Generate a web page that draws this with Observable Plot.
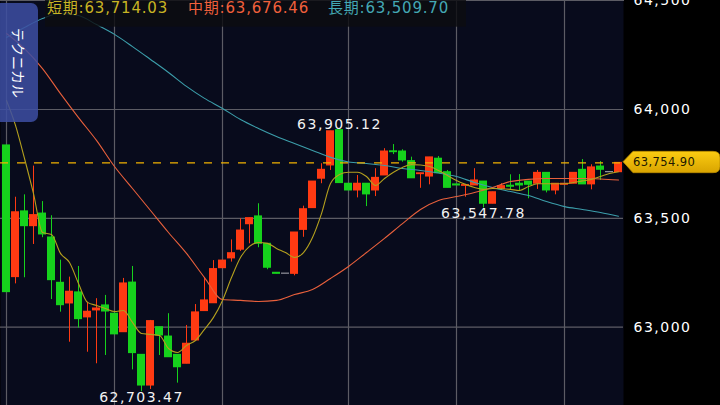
<!DOCTYPE html>
<html><head><meta charset="utf-8">
<script src="https://cdn.jsdelivr.net/npm/d3@7"></script>
<script src="https://cdn.jsdelivr.net/npm/@observablehq/plot@0.6"></script>
<style>
html,body{margin:0;padding:0;background:#000;}
#chart{width:720px;height:405px;overflow:hidden;}
</style></head><body><div id="chart"></div>
<script>
// ---- data ----
const opens=[63835,63230,63532,63464,63522,63412,63204,63109,63160,63045,
63077,63100,63062,62977,63205,62873,62732,63000,62957,62873,
62832,62939,63074,63110,63271,63316,63356,63473,63509,63383,
63250,63246,63245,63447,63547,63682,63743,63905.12,63659,63628,
63659,63628,63697,63808,63807,63763,63703,63692,63774,63712,
63656,63649,63651,63669,63567,63636,63650,63659,63669,63659,
63709,63628,63654,63659,63723,63656,63738,63712,63712];
const highs=[63835,63597,63608,63740,63577,63512,63308,63230,63279,63115,
63131,63146,63062,63224,63279,62874,63031,63000,63062,62873,
63008,63104,63227,63306,63306,63401,63498,63501,63567,63383,
63250,63246,63435,63556,63669,63751,63900,63905.12,63659,63697,
63659,63728,63820,63839,63815,63781,63707,63780,63784,63720,
63656,63653,63728,63669,63620,63659,63700,63701,63669,63720,
63709,63659,63659,63709,63770,63746,63761,63712,63754.90];
const lows=[63161,63199,63227,63380,63411,63127,63069,62931,62996,62885,
62832,62870,62967,62977,62804,62703.47,62714,62870,62862,62743,
62832,62939,63074,63110,63271,63299,63348,63383,63365,63264,
63245,63246,63236,63413,63547,63659,63720,63662,63628,63594,
63554,63600,63697,63793,63758,63684,63638,63654,63707,63640,
63651,63597,63651,63547.78,63567,63628,63628,63628,63590,63633,
63617,63608,63654,63659,63656,63631,63674,63712,63712];
const closes=[63161,63528,63464,63515,63426,63216,63101,63163,63037,63071,
63086,63072,62967,63201,62881,62732,63028,62962,62862,62816,
62924,63068,63123,63267,63306,63340,63444,63501,63383,63273,
63245,63246,63435,63542,63669,63723,63900,63662,63628,63659,
63610,63686,63807,63804,63766,63684,63707,63780,63707,63640,
63651,63653,63674,63567,63620,63648,63645,63651,63654,63709,
63628,63659,63659,63709,63656,63734,63723,63712,63754.90];

// moving averages
const maShort=[64041,63927,63775,63614,63435,63426,63339,63297,63201,63114,
63100,63086,63072,63077,63022,62971,62967,62962,62902,62884,
62916,62939,62990,63045,63123,63228,63320,63371,63389,63385,
63362,63343,63320,63343,63412,63522,63660,63701,63712,63712,
63692,63651,63683,63712,63734,63747,63745,63738,63720,63697,
63674,63656,63642,63633,63637,63636,63633,63628,63646,63659,
63659,63659,63659,63665,63672,63679,63692,63706,63714.03];
// mid & long read at every second bar (0,2,...,68)
const maMid=[64349,64280,64188,64073,63963,63858,63738,63637,63536,63435,
63339,63228,63127,63123,63118,63123,63150,63173,63224,63279,
63343,63408,63476,63541,63582,63600,63619,63642,63669,63679,
63683,63683,63683,63681,63676.46];
const maLong=[64331,64377,64418,64441,64432,64390,64345,64289,64230,64170,
64106,64051,64005,63954,63913,63876,63844,63812,63780,63759,
63752,63743,63729,63720,63708,63692,63665,63642,63623,63605,
63577,63554,63541,63527,63509.70];

const yTicks=[63000,63500,64000,64500];
const gridLevels=[63000,63500,64000];
const timeGridBars=[0,12,24,38,50,62];
const legendItems=[{name:"短期",value:63714.03},{name:"中期",value:63676.46},{name:"長期",value:63509.70}];
const highMark={bar:37,value:63905.12};
const lowMarks=[{bar:53,value:63547.78},{bar:15,value:62703.47}];
const tabLabel="テクニカル";

// ---- styles ----
const UP="#ff3a12", DOWN="#16d21c", DOJI="#b0b0b8";
const C_SHORT="#b4a01e", C_MID="#e8603c", C_LONG="#3c9eaa";
const L_SHORT="#c8b424", L_MID="#f0603c", L_LONG="#44a8b4";

const candles=opens.map((o,i)=>({i,open:o,high:highs[i],low:lows[i],close:closes[i]}));
const colorOf=d=>d.close>d.open?UP:d.close<d.open?DOWN:DOJI;
const shortPts=maShort.map((v,i)=>({i,v}));
const midPts=maMid.map((v,k)=>({i:k*2,v}));
const longPts=maLong.map((v,k)=>({i:k*2,v}));
const last=closes[closes.length-1];
const fmt2=d3.format(",.2f");

const plot=Plot.plot({
  width:720,height:405,marginLeft:0,marginRight:97,marginTop:0,marginBottom:0,
  style:{background:"#000",color:"#fff",fontFamily:"'DejaVu Sans', sans-serif",letterSpacing:"1.5px"},
  x:{domain:[-0.6667,68.5556],axis:null},
  y:{domain:[62640.3,64500.7],axis:null},
  marks:[
    Plot.frame({fill:"#080b1c",stroke:null}),
    Plot.ruleY(gridLevels,{stroke:"#5c5c64",strokeWidth:1.2}),
    Plot.ruleX(timeGridBars,{stroke:"#5c5c64",strokeWidth:1.2}),
    Plot.frame({anchor:"top",stroke:"#5c5c64"}),
    Plot.frame({anchor:"bottom",stroke:"#5c5c64"}),
    Plot.ruleX(candles,{x:"i",y1:"low",y2:"high",stroke:colorOf,strokeWidth:1}),
    Plot.rect(candles,{x1:d=>d.i-0.444,x2:d=>d.i+0.444,y1:"open",y2:"close",fill:colorOf,insetTop:-0.5,insetBottom:-0.5}),
    Plot.line(longPts,{x:"i",y:"v",stroke:C_LONG,strokeWidth:1.1,curve:"monotone-x"}),
    Plot.line(midPts,{x:"i",y:"v",stroke:C_MID,strokeWidth:1.1,curve:"monotone-x"}),
    Plot.line(shortPts,{x:"i",y:"v",stroke:C_SHORT,strokeWidth:1.1,curve:"monotone-x"}),
    Plot.ruleY([last],{stroke:"#f2b300",strokeWidth:1.2,strokeDasharray:"8,9"}),
    Plot.text([highMark],{x:"bar",y:"value",text:d=>fmt2(d.value),fill:"#f2f2f2",fontSize:14,lineAnchor:"bottom",dy:-1}),
    Plot.text(lowMarks,{x:"bar",y:"value",text:d=>fmt2(d.value),fill:"#f2f2f2",fontSize:14,lineAnchor:"top",dy:0}),
    Plot.axisY({anchor:"right",ticks:yTicks,tickSize:0,tickPadding:10,tickFormat:d3.format(","),fill:"#fff",fontSize:14,label:null})
  ]
});

const svg=d3.select(plot);
const ys=plot.scale("y");
const yc=ys.apply(last);
// legend box
const lg=svg.append("g").attr("text-anchor","start");
lg.append("rect").attr("x",45).attr("y",0).attr("width",421).attr("height",26.7).attr("fill","#0c0c10").attr("opacity",0.82);
const lgX=[47,188,328], lgC=[L_SHORT,L_MID,L_LONG];
legendItems.forEach((it,k)=>{
  lg.append("text").attr("x",lgX[k]).attr("y",12.7).attr("font-size",15).attr("letter-spacing","0.8")
    .attr("text-anchor","start")
    .attr("fill",lgC[k]).attr("font-family","'DejaVu Sans','Noto Sans CJK JP',sans-serif")
    .text(it.name+":"+fmt2(it.value));
});
// left tab
const tg=svg.append("g");
tg.append("rect").attr("x",-7).attr("y",3).attr("width",45).attr("height",119).attr("rx",7)
  .attr("fill","#3d4ea2").attr("opacity",0.86);
tg.append("text").attr("transform","translate(18.5,63) rotate(90)").attr("text-anchor","middle")
  .attr("dominant-baseline","central").attr("font-size",14).attr("letter-spacing","0")
  .attr("font-family","'Noto Sans CJK JP',sans-serif").attr("fill","#fff").text(tabLabel);
// price tag
const defs=svg.append("defs");
const gr=defs.append("linearGradient").attr("id","tagGrad").attr("x1",0).attr("y1",0).attr("x2",0).attr("y2",1);
gr.append("stop").attr("offset","0%").attr("stop-color","#fbcc12");
gr.append("stop").attr("offset","100%").attr("stop-color","#d9a400");
const t=yc-11, b=yc+10.3;
svg.append("path").attr("d",`M623,${yc-0.7} L633,${t} H713 Q720,${t} 720,${t+6} V${b-6} Q720,${b} 713,${b} H633 Z`)
  .attr("fill","url(#tagGrad)").attr("stroke","#b88a00").attr("stroke-width",0.8);
svg.append("text").attr("x",633).attr("y",yc+4).attr("font-size",11.5).attr("letter-spacing","0.4")
  .attr("text-anchor","start").attr("fill","#201800").text(fmt2(last));

document.getElementById("chart").appendChild(plot);
</script></body></html>
